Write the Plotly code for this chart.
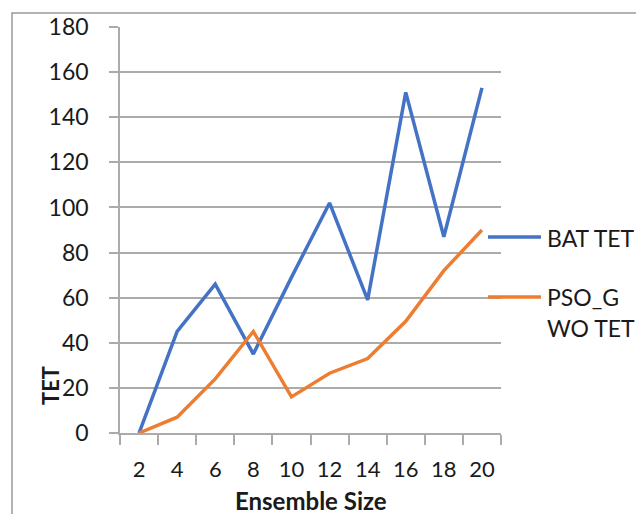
import plotly.graph_objects as go

# Ensemble sizes and total execution time (TET) of the two methods
ensemble_sizes = ["2", "4", "6", "8", "10", "12", "14", "16", "18", "20"]
bat_tet = [0, 45, 66, 35, 69, 102, 59, 151, 87, 153]
pso_gwo_tet = [0, 7, 24, 45, 16, 26.5, 33, 49.5, 72, 90]
y_ticks = [0, 20, 40, 60, 80, 100, 120, 140, 160, 180]

BLUE = "#4472C4"
ORANGE = "#ED7D31"
GRID = "#ababab"
FONT = "Lato"
TEXT = "#1a1a1a"

W, H = 636, 514
L, R, T, B = 120, 135, 27, 81
PW, PH = W - L - R, H - T - B


def px(x):
    return (x - L) / PW


def py(y):
    return (H - B - y) / PH


fig = go.Figure()
fig.add_trace(go.Scatter(x=ensemble_sizes, y=bat_tet, mode="lines", name="BAT TET",
                         line=dict(color=BLUE, width=3.5), showlegend=False))
fig.add_trace(go.Scatter(x=ensemble_sizes, y=pso_gwo_tet, mode="lines", name="PSO_GWO TET",
                         line=dict(color=ORANGE, width=3.5), showlegend=False))

shapes = [
    # chart frame
    dict(type="rect", xref="paper", yref="paper", x0=px(12), x1=px(700),
         y0=py(560), y1=py(13), line=dict(color="#9a9a9a", width=1.5), layer="below"),
    # legend samples
    dict(type="line", xref="paper", yref="paper", x0=px(488), x1=px(541),
         y0=py(237), y1=py(237), line=dict(color=BLUE, width=3.5)),
    dict(type="line", xref="paper", yref="paper", x0=px(488), x1=px(541),
         y0=py(297), y1=py(297), line=dict(color=ORANGE, width=3.5)),
]

legend_font = dict(family=FONT, size=23, color=TEXT)

annotations = [
    dict(text="BAT TET", xref="paper", yref="paper", x=px(545), y=py(238),
         xanchor="left", yanchor="middle", showarrow=False, font=legend_font),
    dict(text="PSO_G", xref="paper", yref="paper", x=px(545), y=py(297),
         xanchor="left", yanchor="middle", showarrow=False, font=legend_font),
    dict(text="WO TET", xref="paper", yref="paper", x=px(545), y=py(328),
         xanchor="left", yanchor="middle", showarrow=False, font=legend_font),
    dict(text="<b>TET</b>", xref="paper", yref="paper", x=px(50), y=py(386),
         xanchor="center", yanchor="middle", textangle=-90, showarrow=False,
         font=dict(family=FONT, size=22, color=TEXT)),
    dict(text="<b>Ensemble Size</b>", xref="paper", yref="paper", x=px(311), y=py(500),
         xanchor="center", yanchor="middle", showarrow=False,
         font=dict(family=FONT, size=24, color=TEXT)),
]

fig.update_layout(
    width=W, height=H,
    margin=dict(l=L, r=R, t=T, b=B),
    paper_bgcolor="white", plot_bgcolor="white",
    shapes=shapes, annotations=annotations,
    xaxis=dict(type="category", range=[-0.5, len(ensemble_sizes) - 0.5],
               tickson="boundaries", showgrid=False,
               showline=True, linecolor=GRID, linewidth=1.5,
               ticks="outside", ticklen=10, tickcolor=GRID, tickwidth=1.5,
               ticklabelstandoff=16,
               tickfont=dict(family=FONT, size=22, color=TEXT)),
    yaxis=dict(range=[0, 180], tickvals=y_ticks, showgrid=True, gridcolor=GRID,
               gridwidth=1.5, zeroline=False, showline=True, linecolor=GRID,
               linewidth=1.5, ticks="outside", ticklen=9, tickcolor=GRID,
               tickwidth=1.5, ticklabelstandoff=16,
               tickfont=dict(family=FONT, size=23, color=TEXT)),
)

fig.write_html("out.html")
